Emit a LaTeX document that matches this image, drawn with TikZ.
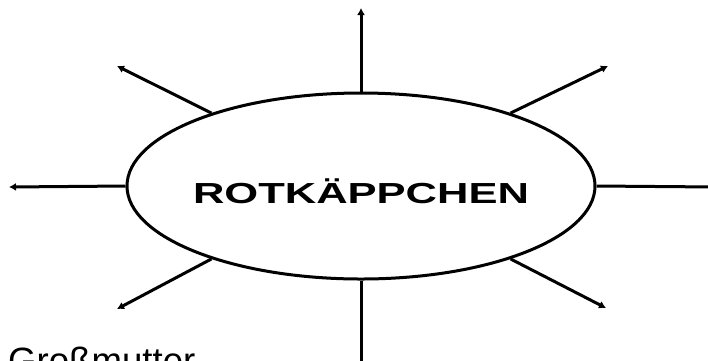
\documentclass[tikz,border=0pt]{standalone}
\usepackage{fontspec}
\setmainfont{Liberation Sans}
\usetikzlibrary{arrows.meta}
\usetikzlibrary{shapes.geometric}

\begin{document}
\begin{tikzpicture}[x=1pt,y=-1pt,
    spoke/.style={line width=3pt,-{Latex[length=7pt,width=8pt]}},
    ]
    \clip (0,0) rectangle (708,360);
    \useasboundingbox (0,0) rectangle (708,360);
    \node[draw,line width=3pt,ellipse,minimum width=468pt,minimum height=186pt,inner sep=0pt]
        (heroine) at (361,186) {};
    \node[inner sep=0pt] (title) at (361,191.5)
        {\scalebox{1.5}[1]{\fontsize{29}{32}\selectfont\bfseries ROTKÄPPCHEN}};
    % free ends of the spokes
    \coordinate (n)  at (361,8);
    \coordinate (s)  at (361,368);
    \coordinate (w)  at (9,187);
    \coordinate (e)  at (716,187);
    \coordinate (nw) at (117,66);
    \coordinate (ne) at (608,66);
    \coordinate (sw) at (117,309);
    \coordinate (se) at (606,308);
    \foreach \ang/\tip in {90/n, 270/s, 180/w, 0/e, 154/nw, 26/ne, 206/sw, 334/se} {
        \draw[spoke] (heroine.\ang) -- (\tip);
    }
    \node[inner sep=0pt,anchor=base west] (grandma) at (8,373)
        {\fontsize{36.6}{40}\selectfont Großmutter};
\end{tikzpicture}
\end{document}
